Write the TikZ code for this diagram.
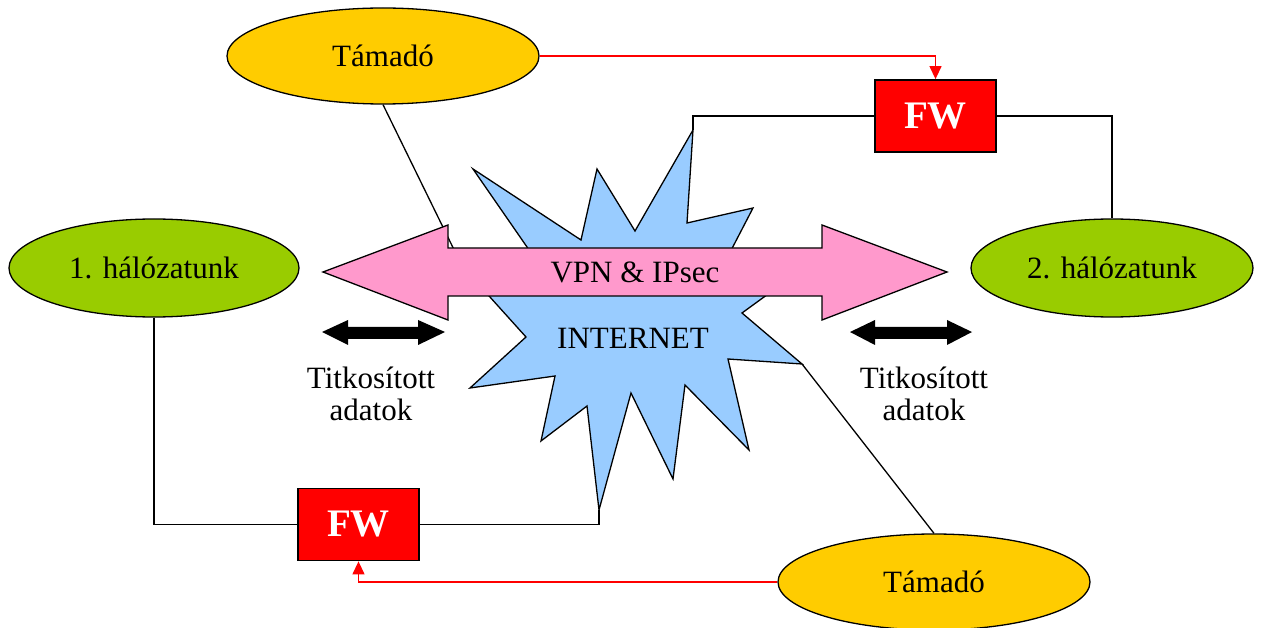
\documentclass[tikz,border=0pt]{standalone}
\usepackage{fontspec}
\setmainfont{Liberation Serif}
\usetikzlibrary{shapes.geometric,arrows.meta}
\definecolor{attackfill}{HTML}{FFCC00}
\definecolor{netfill}{HTML}{99CC00}
\definecolor{cloudfill}{HTML}{99CCFF}
\definecolor{tunnelfill}{HTML}{FF99CC}
\begin{document}
\begin{tikzpicture}[x=1pt,y=-1pt,
  txt/.style={font=\fontsize{31}{32}\selectfont},
  oval/.style={ellipse,draw=black,line width=1.3pt,inner sep=0pt,txt},
  attacker/.style={oval,fill=attackfill,minimum width=312pt,minimum height=96pt},
  network/.style={oval,fill=netfill,minimum width=290pt,minimum height=98pt},
  fwbox/.style={draw=black,line width=1.8pt,fill=red,text=white,font=\fontsize{39}{39}\selectfont\bfseries,minimum width=121pt,minimum height=72pt,inner sep=0pt},
  link/.style={draw=black,line width=1.3pt},
  attack/.style={draw=red,line width=1.3pt,-{Triangle[length=13pt,width=12pt]}},
  shapeline/.style={draw=black,line width=1.3pt,line join=miter}
]
\useasboundingbox (0,0) rectangle (1262,628);

% nodes
\node[attacker] (t1) at (383,56) {Támadó};
\node[attacker] (t2) at (934,582) {Támadó};
\node[network] (n1) at (154,268) {1. hálózatunk};
\node[network,minimum width=282pt] (n2) at (1112,268) {2. hálózatunk};
\node[fwbox] (fw1) at (358.5,524.5) {FW};
\node[fwbox] (fw2) at (935.5,116) {FW};

% star (internet)
\path (473,169) coordinate (s1)  (581,240) coordinate (s2)
      (597,169) coordinate (s3)  (635,231) coordinate (s4)
      (693,130) coordinate (s5)  (687,223) coordinate (s6)
      (753,208) coordinate (s7)  (725,262) coordinate (s8)
      (808,265) coordinate (s9)  (742,313) coordinate (s10)
      (802,364) coordinate (s11) (728,359) coordinate (s12)
      (749,450) coordinate (s13) (685,385) coordinate (s14)
      (673,479) coordinate (s15) (631,393) coordinate (s16)
      (599,510) coordinate (s17) (587,406) coordinate (s18)
      (541,441) coordinate (s19) (555,376) coordinate (s20)
      (470,388) coordinate (s21) (526,337) coordinate (s22)
      (462,266) coordinate (s23) (536,260) coordinate (s24);
\draw[shapeline,fill=cloudfill] (s1) -- (s2) -- (s3) -- (s4) -- (s5) -- (s6) -- (s7) -- (s8)
  -- (s9) -- (s10) -- (s11) -- (s12) -- (s13) -- (s14) -- (s15) -- (s16) -- (s17) -- (s18)
  -- (s19) -- (s20) -- (s21) -- (s22) -- (s23) -- (s24) -- cycle;
\node[txt] (inet) at (633,338) {INTERNET};

% links
\draw[link] (n1.south) |- (fw1.west);
\draw[link] (fw1.east) -| (s17);
\draw[link] (s5) |- (fw2.west);
\draw[link] (fw2.east) -| (n2.north);
\draw[link] (t1.south) -- (s23);
\draw[link] (s11) -- (t2.north);

% attacks
\draw[attack] (t1.east) -| (fw2.north);
\draw[attack] (t2.west) -| (fw1.south);

% VPN tunnel arrow
\draw[shapeline,fill=tunnelfill] (323,272) -- (448,225) -- (448,248) -- (822,248) -- (822,225)
  -- (947,272) -- (822,320) -- (822,296) -- (448,296) -- (448,320) -- cycle;
\node[txt] (vpn) at (635,272) {VPN \& IPsec};

% encrypted data arrows
\fill[black] (322,332) -- (348,320) -- (348,327) -- (418,327) -- (418,320) -- (445,332)
  -- (418,345) -- (418,339) -- (348,339) -- (348,345) -- cycle;
\fill[black] (850,332) -- (875,320) -- (875,327) -- (947,327) -- (947,320) -- (972,332)
  -- (947,345) -- (947,339) -- (875,339) -- (875,345) -- cycle;
\node[txt,align=center] (enc1) at (371,394) {Titkosított\\adatok};
\node[txt,align=center] (enc2) at (924,394) {Titkosított\\adatok};
\end{tikzpicture}
\end{document}
